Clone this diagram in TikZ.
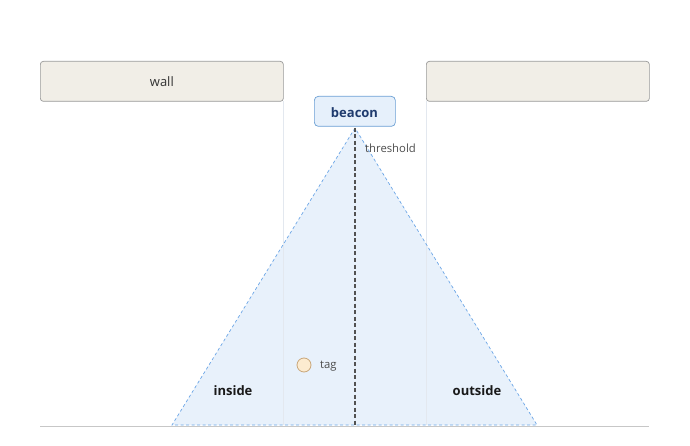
\documentclass[tikz,border=0pt]{standalone}
\usepackage{fontspec}
\setmainfont{Open Sans}
\begin{document}
\begin{tikzpicture}[x=1pt,y=-1pt,
  wallbox/.style={draw=black!40, fill=wallfill, rounded corners=3pt, line width=0.7pt},
  guide/.style={draw=guidec, line width=0.6pt},
  lbl/.style={font=\fontsize{11.3}{13}\selectfont, text=black!70, inner sep=0pt}]
\definecolor{wallfill}{HTML}{F1EEE7}
\definecolor{guidec}{HTML}{E3E8EF}
\definecolor{beaconfill}{HTML}{E6F0FB}
\definecolor{beacondraw}{HTML}{6A9FD4}
\definecolor{beacontext}{HTML}{1F3B6E}
\definecolor{conefill}{HTML}{E8F1FB}
\definecolor{conedraw}{HTML}{6AA5E6}
\definecolor{tagfill}{HTML}{FCEBD0}
\definecolor{tagdraw}{HTML}{C9A77A}
\useasboundingbox (0,0) rectangle (690,446);
% guides
\draw[guide] (283,101) -- (283,425);
\draw[guide] (426,101) -- (426,425);
% cone
\coordinate (apex) at (355,128);
\coordinate (bl) at (172,425);
\coordinate (br) at (537,425);
\fill[conefill] (apex) -- (bl) -- (br) -- cycle;
\draw[guide] (283,245) -- (283,425);
\draw[guide] (426,245) -- (426,425);
% ground
\coordinate (g1) at (40,426);
\coordinate (g2) at (649,426);
\draw[draw=black!22, line width=0.8pt] (g1) -- (g2);
\draw[conedraw, line width=0.7pt, dash pattern=on 3pt off 2.5pt] (apex) -- (bl) -- (br) -- cycle;
% threshold
\coordinate (tb) at (355,425);
\draw[black!68, line width=1.05pt, dash pattern=on 4pt off 2.5pt] (apex) -- (tb);
\node[lbl, anchor=west] (thr) at (365,148) {threshold};
% walls
\node[wallbox, minimum width=243pt, minimum height=40pt, anchor=north west, font=\fontsize{13}{15}\selectfont, text=black!80] (wallL) at (40,61) {wall};
\node[wallbox, minimum width=223pt, minimum height=40pt, anchor=north west] (wallR) at (426,61) {};
% beacon
\node[draw=beacondraw, fill=beaconfill, rounded corners=4pt, line width=0.7pt, minimum width=81pt, minimum height=30pt, anchor=north west] (beacon) at (314,96) {};
\node[font=\fontsize{13}{15}\selectfont\bfseries, text=beacontext] (beacontxt) at (354.5,112.5) {beacon};
% tag
\node[circle, draw=tagdraw, fill=tagfill, line width=0.8pt, minimum size=14pt, inner sep=0pt] (tag) at (304,365) {};
\node[lbl, anchor=west] (taglbl) at (320,366) {tag};
% zones
\node[font=\fontsize{13}{15}\selectfont\bfseries, text=black!90] (inside) at (233,390.5) {inside};
\node[font=\fontsize{13}{15}\selectfont\bfseries, text=black!90] (outside) at (477,390.5) {outside};
\end{tikzpicture}
\end{document}
